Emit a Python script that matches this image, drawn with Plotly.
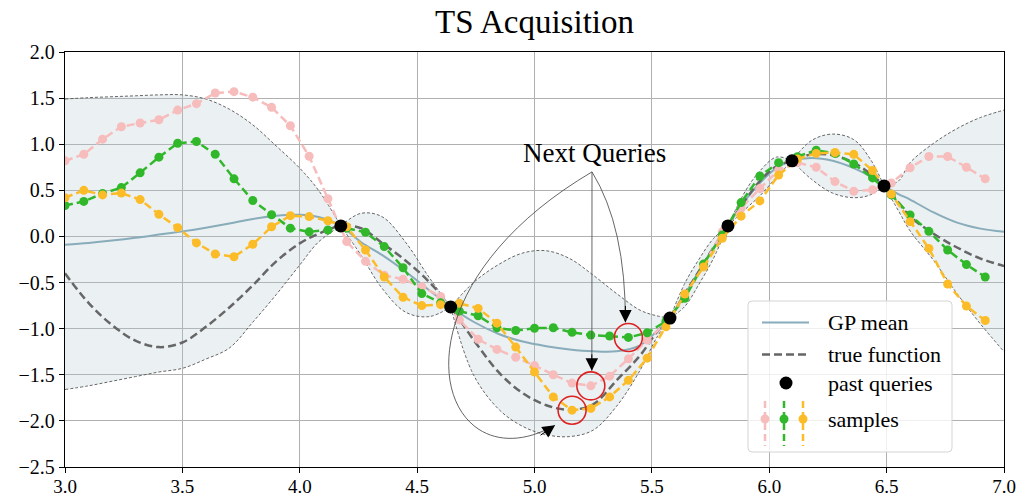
import plotly.graph_objects as go

# ---------------- data ----------------
sample_x = [3.00, 3.08, 3.16, 3.24, 3.32, 3.40, 3.48, 3.56, 3.64, 3.72,
            3.80, 3.88, 3.96, 4.04, 4.12, 4.20, 4.28, 4.36, 4.44, 4.52,
            4.60, 4.68, 4.76, 4.84, 4.92, 5.00, 5.08, 5.16, 5.24, 5.32,
            5.40, 5.48, 5.56, 5.64, 5.72, 5.80, 5.88, 5.96, 6.04, 6.12,
            6.20, 6.28, 6.36, 6.44, 6.52, 6.60, 6.68, 6.76, 6.84, 6.92]

sample_pink = [0.82, 0.89, 1.055, 1.19, 1.23, 1.265, 1.37, 1.44, 1.555, 1.57,
               1.51, 1.40, 1.20, 0.87, 0.41, -0.056, -0.27, -0.42, -0.465, -0.545,
               -0.65, -0.905, -1.116, -1.225, -1.31, -1.40, -1.50, -1.59, -1.62, -1.515,
               -1.327, -1.124, -0.94, -0.65, -0.32, 0.05, 0.306, 0.52, 0.72, 0.80,
               0.75, 0.595, 0.49, 0.505, 0.58, 0.745, 0.867, 0.867, 0.75, 0.625]

sample_green = [0.335, 0.38, 0.465, 0.53, 0.69, 0.86, 1.01, 1.03, 0.89, 0.625,
                0.39, 0.235, 0.09, 0.05, 0.07, 0.09, 0.045, -0.11, -0.34, -0.62,
                -0.72, -0.81, -0.86, -0.99, -1.02, -0.995, -0.99, -1.04, -1.07, -1.08,
                -1.095, -1.045, -0.92, -0.67, -0.30, 0.016, 0.367, 0.655, 0.80, 0.865,
                0.935, 0.90, 0.785, 0.635, 0.45, 0.233, 0.055, -0.147, -0.305, -0.44]

sample_yellow = [0.42, 0.50, 0.45, 0.47, 0.40, 0.24, 0.095, -0.07, -0.19, -0.22,
                 -0.085, 0.105, 0.225, 0.215, 0.17, 0.105, -0.147, -0.44, -0.66, -0.75,
                 -0.74, -0.725, -0.78, -0.94, -1.20, -1.47, -1.74, -1.884, -1.865, -1.74,
                 -1.56, -1.32, -0.98, -0.625, -0.33, -0.02, 0.22, 0.385, 0.665, 0.84,
                 0.90, 0.91, 0.89, 0.715, 0.46, 0.16, -0.13, -0.516, -0.755, -0.912]

query_x = [4.175, 4.643, 5.577, 5.824, 6.097, 6.489]
query_y = [0.114, -0.765, -0.885, 0.114, 0.82, 0.548]

curve_x = [3.0, 3.1, 3.2, 3.3, 3.4, 3.5, 3.6, 3.7, 3.8, 3.9, 4.0, 4.08, 4.175,
           4.26, 4.35, 4.45, 4.55, 4.643, 4.74, 4.85, 4.95, 5.05, 5.15, 5.25,
           5.35, 5.45, 5.52, 5.577, 5.64, 5.70, 5.76, 5.824, 5.90, 5.96, 6.03,
           6.097, 6.18, 6.27, 6.36, 6.43, 6.489, 6.55, 6.6, 6.7, 6.8, 6.9, 7.0]

gp_mean = [-0.09, -0.07, -0.045, -0.015, 0.02, 0.055, 0.095, 0.14, 0.19, 0.225, 0.235, 0.21, 0.114,
           -0.06, -0.20, -0.38, -0.58, -0.765, -0.925, -1.06, -1.14, -1.19, -1.225, -1.245,
           -1.245, -1.18, -1.03, -0.885, -0.63, -0.38, -0.13, 0.114, 0.40, 0.58, 0.74,
           0.82, 0.85, 0.82, 0.74, 0.65, 0.548, 0.46, 0.40, 0.26, 0.15, 0.085, 0.05]

true_f = [-0.40, -0.72, -0.96, -1.13, -1.20, -1.15, -0.98, -0.77, -0.53, -0.27, -0.075, 0.03, 0.114,
          0.09, -0.07, -0.26, -0.49, -0.765, -1.12, -1.48, -1.70, -1.83, -1.88, -1.82,
          -1.56, -1.29, -1.04, -0.885, -0.62, -0.38, -0.13, 0.114, 0.40, 0.60, 0.76,
          0.82, 0.89, 0.88, 0.80, 0.68, 0.548, 0.37, 0.215, 0.03, -0.12, -0.24, -0.32]

band_upper = [1.49, 1.505, 1.515, 1.525, 1.535, 1.535, 1.49, 1.38, 1.21, 0.98, 0.74, 0.50, 0.114,
              0.25, 0.215, -0.06, -0.44, -0.765, -0.50, -0.30, -0.18, -0.155, -0.24, -0.42,
              -0.62, -0.80, -0.86, -0.885, -0.51, -0.25, -0.03, 0.114, 0.50, 0.71, 0.86,
              0.82, 1.04, 1.11, 1.05, 0.84, 0.548, 0.60, 0.80, 1.01, 1.17, 1.29, 1.37]

band_lower = [-1.66, -1.62, -1.57, -1.52, -1.47, -1.43, -1.33, -1.21, -0.93, -0.63, -0.31, -0.06, 0.114,
              -0.20, -0.56, -0.82, -0.87, -0.765, -1.50, -1.88, -2.06, -2.15, -2.17, -2.10,
              -1.84, -1.45, -1.10, -0.885, -0.76, -0.52, -0.25, 0.114, 0.30, 0.44, 0.64,
              0.82, 0.62, 0.47, 0.42, 0.45, 0.548, 0.28, 0.06, -0.26, -0.62, -0.95, -1.25]

# index of the chosen next query in each sample path
pick_green, pick_pink, pick_yellow = 30, 28, 27

# ---------------- styling ----------------
W, H = 1019, 500
ML, MR, MT, MB = 65, 15, 52, 33
PW, PH = W - ML - MR, H - MT - MB
X0, X1, Y0, Y1 = 3.0, 7.0, -2.5, 2.0
XPX = PW / (X1 - X0)
YPX = PH / (Y1 - Y0)

FONT = "Liberation Serif"
C_PINK = "#f7bcbc"
C_GREEN = "#30b82a"
C_YELLOW = "#fbbc28"
C_MEAN = "#88acba"
C_TRUE = "#666666"
C_BAND_EDGE = "#555555"
C_FILL = "rgba(175,196,205,0.25)"
C_RED = "#dd2222"

fig = go.Figure()

# confidence band, one smooth piece between consecutive observations
cuts = [0] + [curve_x.index(q) for q in query_x] + [len(curve_x) - 1]
for a, b in zip(cuts[:-1], cuts[1:]):
    xs = curve_x[a:b + 1]
    edge = dict(color=C_BAND_EDGE, width=0.9, dash="3px,2px", shape="spline", smoothing=1.0)
    fig.add_trace(go.Scatter(x=xs, y=band_lower[a:b + 1], mode="lines", line=edge,
                             showlegend=False, hoverinfo="skip"))
    fig.add_trace(go.Scatter(x=xs, y=band_upper[a:b + 1], mode="lines", line=edge,
                             fill="tonexty", fillcolor=C_FILL,
                             showlegend=False, hoverinfo="skip"))

fig.add_trace(go.Scatter(x=curve_x, y=gp_mean, mode="lines", name="GP mean",
                         line=dict(color=C_MEAN, width=2, shape="spline")))
fig.add_trace(go.Scatter(x=curve_x, y=true_f, mode="lines", name="true function",
                         line=dict(color=C_TRUE, width=2.5, dash="8px,4px", shape="spline")))

for ys, col in [(sample_pink, C_PINK), (sample_green, C_GREEN), (sample_yellow, C_YELLOW)]:
    fig.add_trace(go.Scatter(x=sample_x, y=ys, mode="lines+markers", name="samples",
                             line=dict(color=col, width=2.5, dash="8px,4px"),
                             marker=dict(color=col, size=9)))

fig.add_trace(go.Scatter(x=query_x, y=query_y, mode="markers", name="past queries",
                         marker=dict(color="black", size=13)))

# red rings around the next queries
shapes = []
R = 14
picks = [(sample_x[pick_green], sample_green[pick_green]),
         (sample_x[pick_pink], sample_pink[pick_pink]),
         (sample_x[pick_yellow], sample_yellow[pick_yellow])]
for cx, cy in picks:
    shapes.append(dict(type="circle", xref="x", yref="y", xsizemode="pixel", ysizemode="pixel",
                       xanchor=cx, yanchor=cy, x0=-R, x1=R, y0=-R, y1=R,
                       line=dict(color=C_RED, width=1.6), layer="above"))

# arrow tips on the ring edges (pixel offsets from each ring centre)
def offset(pt, dx, dy):
    return pt[0] + dx / XPX, pt[1] - dy / YPX

tip1 = offset(picks[0], -3, -15)
tip2 = offset(picks[1], 1, -15)
tip3 = offset(picks[2], -17, 15)
origin = (5.245, 0.70)

def p(pt):
    return f"{pt[0]:.4f},{pt[1]:.4f}"

arrow_line = dict(color="#555555", width=0.9)
shapes.append(dict(type="path", xref="x", yref="y", layer="above", line=arrow_line,
                   path=f"M {p(origin)} Q {p((5.389, 0.103))} {p(tip1)}"))
shapes.append(dict(type="path", xref="x", yref="y", layer="above", line=arrow_line,
                   path=f"M {p(origin)} L {p(tip2)}"))
shapes.append(dict(type="path", xref="x", yref="y", layer="above", line=arrow_line,
                   path=f"M {p(origin)} C {p((4.320, -0.689))} {p((4.597, -2.752))} {p(tip3)}"))

annotations = [dict(x=5.255, y=0.90, xref="x", yref="y", text="Next Queries", showarrow=False,
                    font=dict(family=FONT, size=27, color="black"))]
for tip, ax, ay in [(tip1, 0, -18), (tip2, 0, -18), (tip3, -16, 11)]:
    annotations.append(dict(x=tip[0], y=tip[1], xref="x", yref="y", text="", showarrow=True,
                            ax=ax, ay=ay, arrowhead=2, arrowsize=2.5, arrowwidth=1,
                            arrowcolor="black", standoff=0))

# ---------------- legend box ----------------
def px_(x):
    return (x - ML) / PW

def py_(y):
    return (H - MB - y) / PH

bx0, bx1, by0, by1 = 748, 952, 301, 452
rx, ry = 4 / PW, 4 / PH
L, Rr, T, B = px_(bx0), px_(bx1), py_(by0), py_(by1)
box = (f"M {L+rx},{T} L {Rr-rx},{T} Q {Rr},{T} {Rr},{T-ry} L {Rr},{B+ry} Q {Rr},{B} {Rr-rx},{B} "
       f"L {L+rx},{B} Q {L},{B} {L},{B+ry} L {L},{T-ry} Q {L},{T} {L+rx},{T} Z")
shapes.append(dict(type="path", xref="paper", yref="paper", path=box, layer="above",
                   fillcolor="rgba(255,255,255,0.8)", line=dict(color="#d4d4d4", width=1)))

rows = {"GP mean": 322.5, "true function": 354.5, "past queries": 383, "samples": 419}
shapes.append(dict(type="line", xref="paper", yref="paper", layer="above",
                   x0=px_(762), x1=px_(809), y0=py_(rows["GP mean"]), y1=py_(rows["GP mean"]),
                   line=dict(color=C_MEAN, width=2)))
shapes.append(dict(type="line", xref="paper", yref="paper", layer="above",
                   x0=px_(762), x1=px_(809), y0=py_(rows["true function"]), y1=py_(rows["true function"]),
                   line=dict(color=C_TRUE, width=2.5, dash="8px,4px")))
shapes.append(dict(type="circle", xref="paper", yref="paper", xsizemode="pixel", ysizemode="pixel",
                   xanchor=px_(786), yanchor=py_(rows["past queries"]), x0=-6.5, x1=6.5, y0=-6.5, y1=6.5,
                   fillcolor="black", line=dict(color="black", width=0), layer="above"))
for gx, col in [(765, C_PINK), (784, C_GREEN), (803, C_YELLOW)]:
    shapes.append(dict(type="line", xref="paper", yref="paper", layer="above",
                       x0=px_(gx), x1=px_(gx), y0=py_(401), y1=py_(446),
                       line=dict(color=col, width=2.5, dash="7px,4px")))
    shapes.append(dict(type="circle", xref="paper", yref="paper", xsizemode="pixel", ysizemode="pixel",
                       xanchor=px_(gx), yanchor=py_(rows["samples"]), x0=-4.5, x1=4.5, y0=-4.5, y1=4.5,
                       fillcolor=col, line=dict(color=col, width=0), layer="above"))
for label, yy in rows.items():
    annotations.append(dict(x=px_(826), y=py_(yy), xref="paper", yref="paper", text=label,
                            showarrow=False, xanchor="left", yanchor="middle",
                            font=dict(family=FONT, size=22, color="black")))

axis_common = dict(showgrid=True, gridcolor="#b0b0b0", gridwidth=1.2, zeroline=False,
                   showline=True, linecolor="black", linewidth=1.3, mirror=True,
                   ticks="outside", ticklen=5, tickwidth=1.2, tickcolor="black",
                   tickformat=".1f", dtick=0.5, automargin=False)

fig.update_layout(
    width=W, height=H,
    margin=dict(l=ML, r=MR, t=MT, b=MB, autoexpand=False),
    paper_bgcolor="white", plot_bgcolor="white",
    showlegend=False,
    title=dict(text="TS Acquisition", x=(ML + PW / 2) / W, xanchor="center",
               y=1 - 21 / H, yanchor="middle", yref="container",
               font=dict(family=FONT, size=33, color="black")),
    xaxis=dict(range=[X0, X1], tick0=3.0, ticklabelstandoff=-3,
               tickfont=dict(family=FONT, size=19, color="black"), **axis_common),
    yaxis=dict(range=[Y0, Y1], tick0=-2.5,
               tickfont=dict(family=FONT, size=20, color="black"), **axis_common),
    shapes=shapes,
    annotations=annotations,
    hovermode=False,
)

fig.write_html("out.html", config={"displayModeBar": False})
